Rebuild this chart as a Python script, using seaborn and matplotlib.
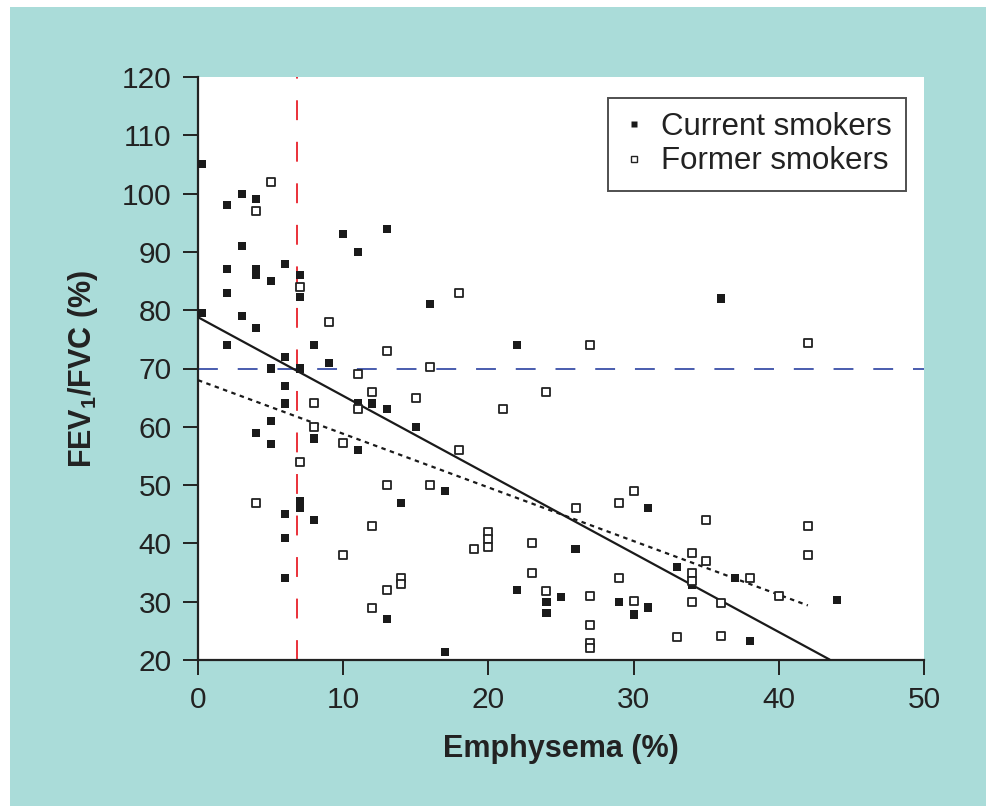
import numpy as np
import pandas as pd
import matplotlib
matplotlib.use("Agg")
import matplotlib.pyplot as plt
from matplotlib.lines import Line2D
from matplotlib.patches import Rectangle
import seaborn as sns

# Werte
current_x = [0.3, 3, 2, 4, 10, 13, 11, 3, 2, 4, 4, 6, 5, 7, 7, 2, 16, 0.3, 3, 4,
             2, 8, 6, 9, 5, 7, 6, 6, 5, 4, 5, 11, 12, 13, 15, 8, 11, 7, 7, 6,
             8, 14, 6, 6, 13, 22, 17, 31, 26, 33, 22, 24, 25, 24, 29, 31, 30, 17,
             36, 34, 37, 44, 38]
current_y = [105, 100, 98, 99, 93, 94, 90, 91, 87, 87, 86, 88, 85, 86, 82.3, 83, 81, 79.5, 79, 77,
             74, 74, 72, 71, 70, 70, 67, 64, 61, 59, 57, 64, 64, 63, 60, 58, 56, 47.2, 46, 45,
             44, 47, 41, 34, 27, 74, 49, 46, 39, 36, 32, 30, 30.8, 28, 30, 29, 27.8, 21.4,
             82, 32.8, 34, 30.3, 23.2]

former_x = [5, 4, 7, 9, 13, 16, 11, 12, 15, 8, 11, 8, 10, 7, 13, 16, 4, 12, 10, 14,
            14, 13, 12, 18, 27, 24, 21, 18, 26, 29, 30, 20, 20, 20, 19, 23, 23, 24, 27, 29,
            30, 27, 27, 27, 33, 42, 35, 42, 42, 34, 35, 34, 34, 38, 40, 34, 36, 36]
former_y = [102, 97, 84, 78, 73, 70.3, 69, 66, 65, 64, 63, 60, 57.2, 54, 50, 50, 47, 43, 38, 34,
            33, 32, 29, 83, 74, 66, 63, 56, 46, 47, 49, 42, 40.7, 39.4, 39, 40, 35, 31.8, 31, 34,
            30.2, 26, 23, 22, 24, 74.3, 44, 43, 38, 38.3, 37, 35, 33.5, 34, 31, 30, 29.8, 24.2]

# Regressionsgeraden (Achsenabschnitt, Steigung, Ende)
fit_solid = (78.8, -1.35, 43.5)
fit_dotted = (68.0, -0.92, 42.0)

# Grenzwerte
emph_cutoff = 6.8
fev_cutoff = 70

df_cur = pd.DataFrame({"emph": current_x, "fev": current_y})
df_for = pd.DataFrame({"emph": former_x, "fev": former_y})

sns.set_style("ticks")
plt.rcParams["font.family"] = ["Liberation Sans", "DejaVu Sans"]
plt.rcParams["mathtext.fontset"] = "custom"
plt.rcParams["mathtext.rm"] = "Liberation Sans"
plt.rcParams["mathtext.bf"] = "Liberation Sans:bold"

teal = "#aadcd9"
fig = plt.figure(figsize=(9.87, 8.06), dpi=100, facecolor="white")
fig.patches.append(Rectangle((10 / 987, 0), 1, 1 - 7 / 806, transform=fig.transFigure,
                             facecolor=teal, edgecolor="none", zorder=-10))
ax = fig.add_axes([198 / 987, 1 - 660 / 806, 726 / 987, 583 / 806])
ax.set_facecolor("white")

sns.scatterplot(data=df_cur, x="emph", y="fev", marker="s", s=34, color="#1a1a1a",
                edgecolor="none", ax=ax, zorder=4)
sns.scatterplot(data=df_for, x="emph", y="fev", marker="s", s=26, facecolor="white",
                edgecolor="#222222", linewidth=1.3, ax=ax, zorder=4)

for (b0, b1, xe), ls in [(fit_solid, "-"), (fit_dotted, (0, (2, 2)))]:
    xs = np.array([0, xe])
    ax.plot(xs, b0 + b1 * xs, color="#1a1a1a", lw=1.6, ls=ls, zorder=3)

ax.axvline(emph_cutoff, color="#e8202a", lw=1.3, ls=(0, (11, 12)), zorder=2)
ax.axhline(fev_cutoff, color="#3a4fa8", lw=1.3, ls=(0, (11, 11)), zorder=2)

ax.set_xlim(0, 50)
ax.set_ylim(20, 120)
ax.set_xticks(range(0, 51, 10))
ax.set_yticks(range(20, 121, 10))
ax.tick_params(axis="both", labelsize=21.5, length=11, width=1.4, color="#222222",
               labelcolor="#222222", pad=8)
for side in ["top", "right"]:
    ax.spines[side].set_visible(False)
for side in ["left", "bottom"]:
    ax.spines[side].set_linewidth(1.6)
    ax.spines[side].set_color("#222222")

ax.set_xlabel("Emphysema (%)", fontsize=22, fontweight="bold", color="#222222", labelpad=14)
ax.set_ylabel(r"FEV$_\mathbf{1}$/FVC (%)", fontsize=22, fontweight="bold", color="#222222",
              labelpad=16)

handles = [
    Line2D([], [], marker="s", ls="none", markersize=4, color="#1a1a1a", markeredgecolor="none"),
    Line2D([], [], marker="s", ls="none", markersize=4, markerfacecolor="white",
           markeredgecolor="#222222", markeredgewidth=1),
]
leg = ax.legend(handles, ["Current smokers", "Former smokers"], loc="upper right",
                bbox_to_anchor=(0.975, 0.9645), borderaxespad=0, fontsize=22.5,
                frameon=True, fancybox=False, handlelength=0.8, handletextpad=0.45,
                labelspacing=0.15, borderpad=0.45)
leg.get_frame().set_edgecolor("#222222")
leg.get_frame().set_linewidth(1.4)
for t in leg.get_texts():
    t.set_color("#222222")

fig.savefig("out.png", dpi=100, facecolor=fig.get_facecolor())
